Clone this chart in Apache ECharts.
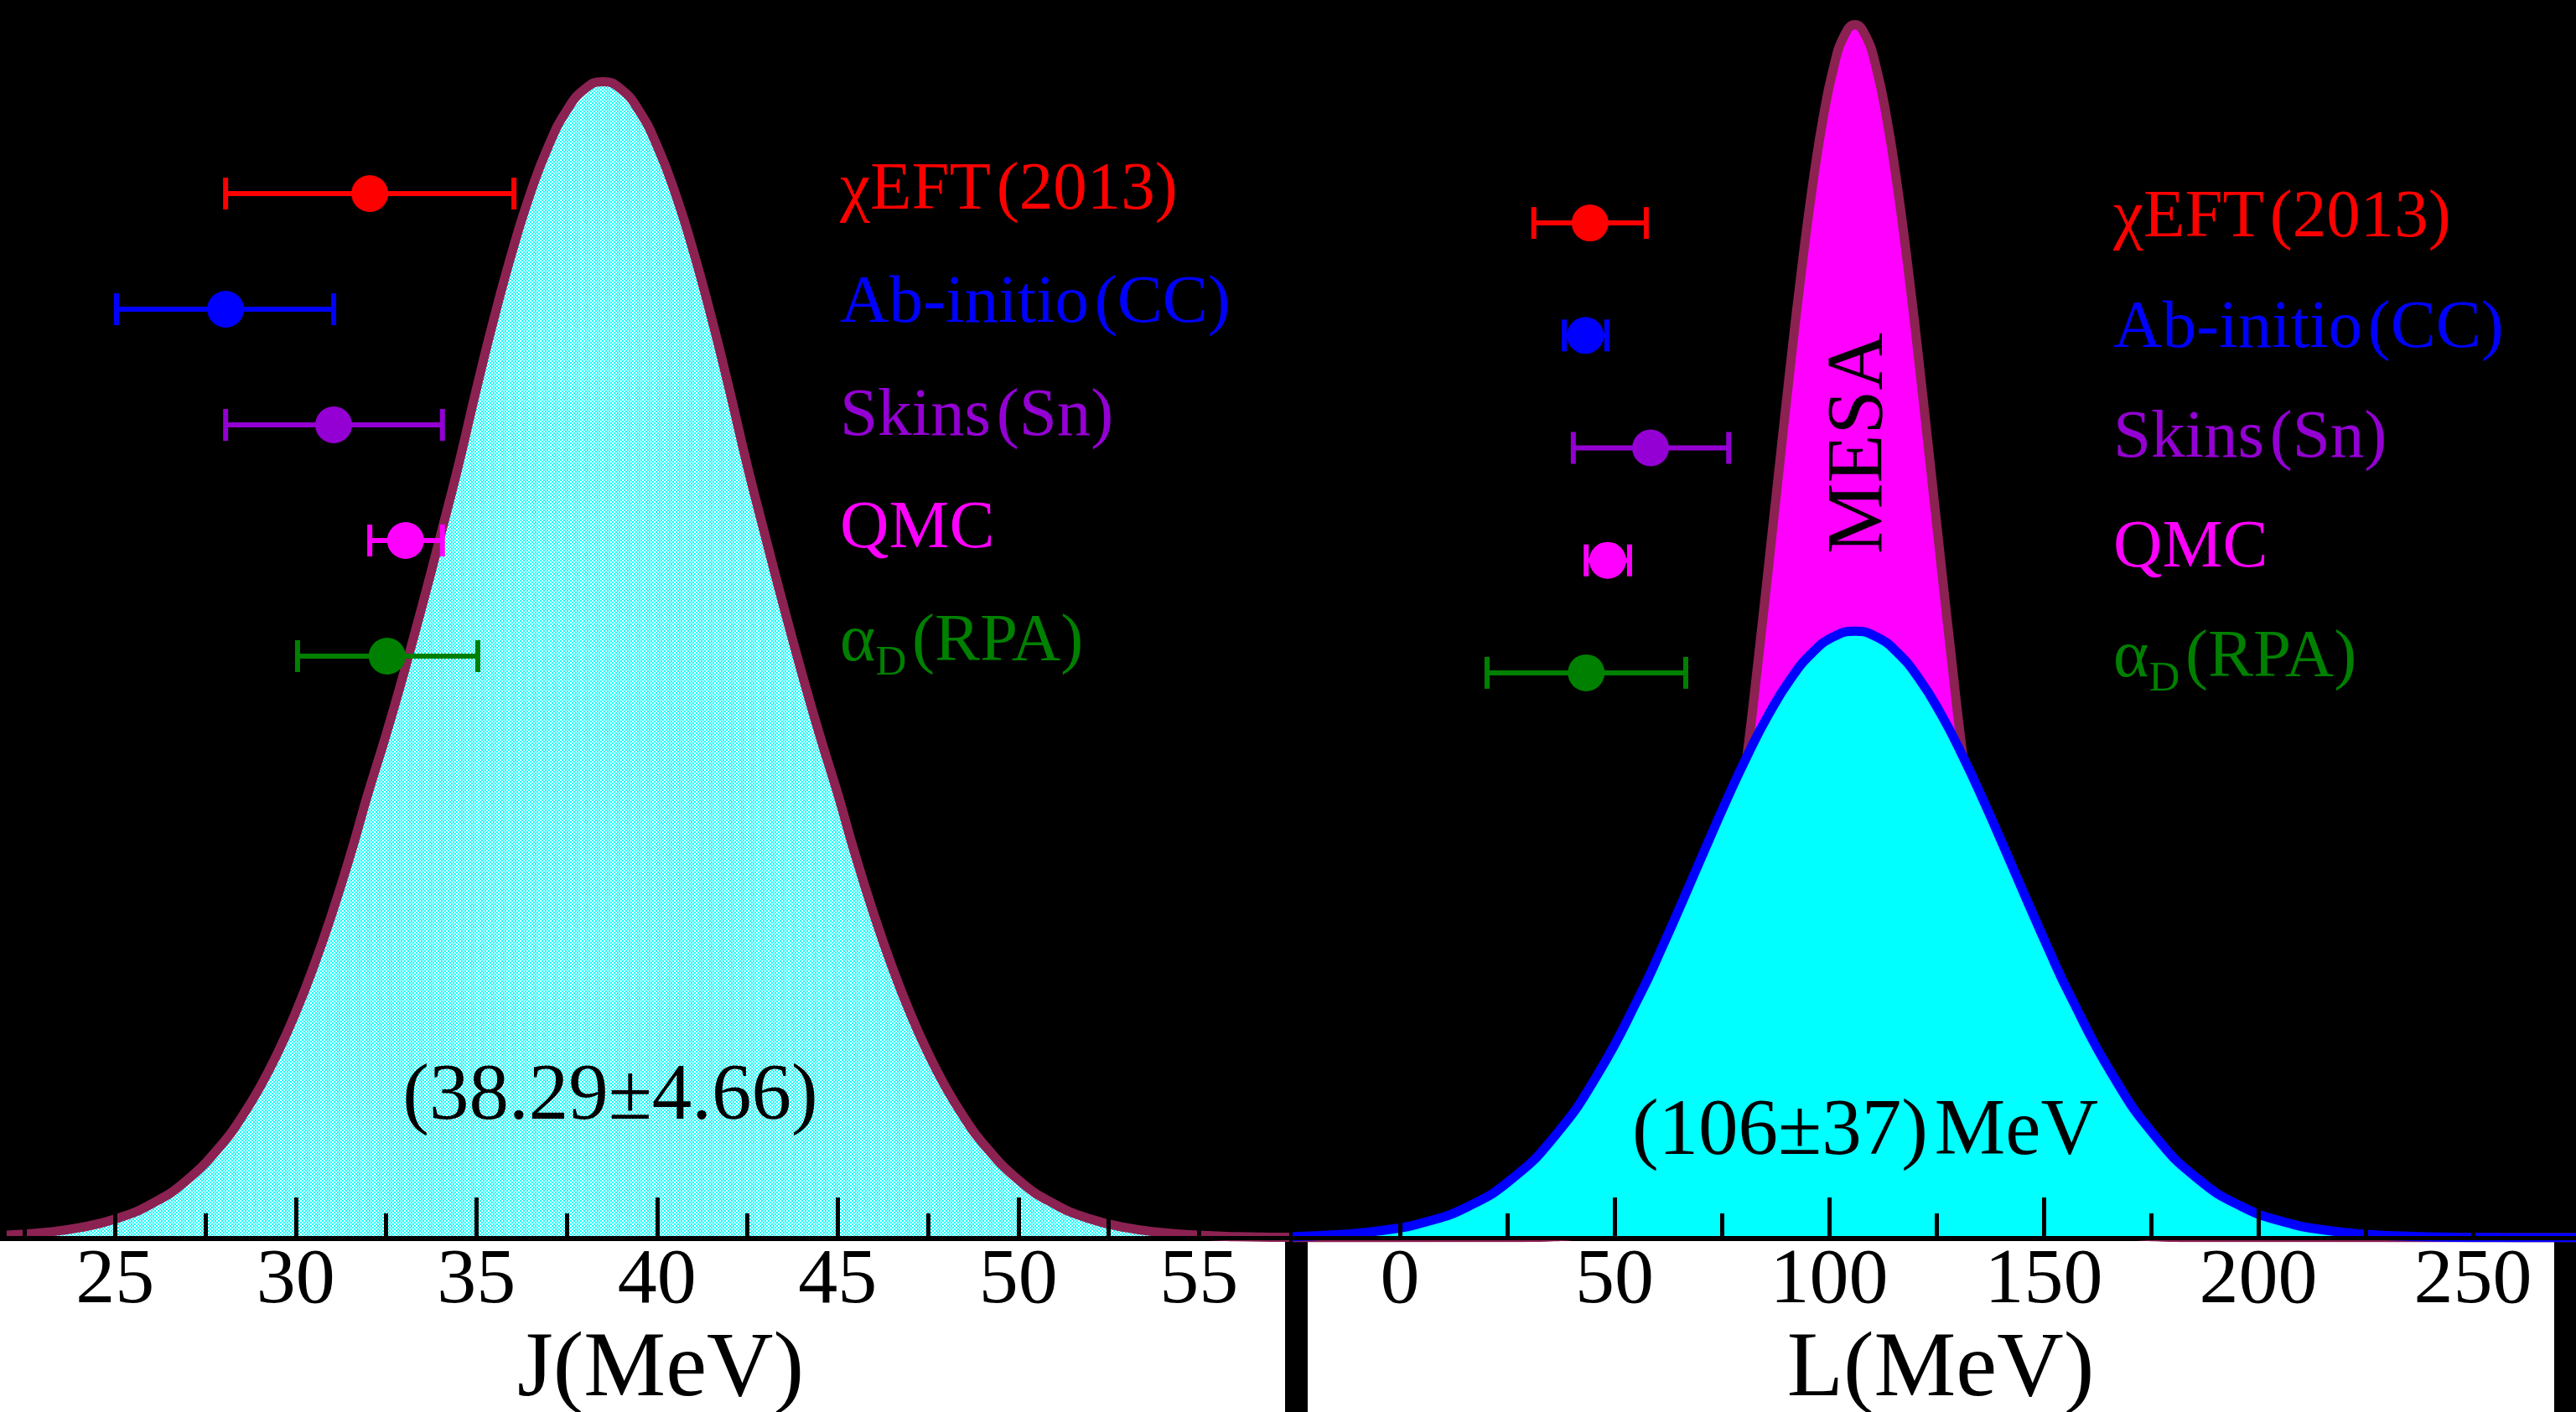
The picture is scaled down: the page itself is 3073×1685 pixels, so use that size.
<!DOCTYPE html>
<html><head><meta charset="utf-8">
<script src="https://cdn.jsdelivr.net/npm/echarts@6/dist/echarts.min.js"></script>
<style>html,body{margin:0;padding:0;background:#000;}#chart{width:3073px;height:1685px;}</style>
</head><body><div id="chart"></div>
<script>
// ---------------- data ----------------
const methodNames = ['χEFT (2013)', 'Ab-initio (CC)', 'Skins (Sn)', 'QMC', 'αD (RPA)'];
const methodColors = ['#ff0000', '#0000ff', '#9400d3', '#ff00ff', '#008000'];

// J panel error bars
const jCenter = [32.05, 28.06, 31.05, 33.04, 32.53];
const jLow    = [28.06, 25.04, 28.06, 32.05, 30.05];
const jHigh   = [36.04, 31.05, 34.06, 34.06, 35.04];

// L panel error bars
const lCenter = [44.3, 43.2, 58.4, 48.4, 43.4];
const lLow    = [31.2, 38.3, 40.4, 43.4, 20.3];
const lHigh   = [57.4, 48.2, 76.6, 53.5, 66.6];

// J distribution curve
const jCurveX = [22, 23, 24, 25, 26, 27, 28, 28.5, 29, 29.5, 30, 30.5, 31, 31.5, 32, 32.5, 33, 33.5, 34, 34.5, 35, 35.5, 36, 36.5, 37, 37.5, 38, 38.5,
                 39, 39.5, 40, 40.5, 41, 41.5, 42, 42.5, 43, 43.5, 44, 44.5, 45, 45.5, 46, 46.5, 47, 47.5, 48, 48.5, 49, 50, 51, 52, 53, 54, 55, 56, 57, 57.5];
const jCurveY = [0.0020, 0.0041, 0.0080, 0.0151, 0.0272, 0.0468, 0.0770, 0.0972, 0.1211, 0.1493, 0.1820, 0.2194, 0.2615, 0.3081, 0.3589, 0.4063, 0.4570, 0.5106, 0.5665, 0.6236, 0.6855, 0.7441, 0.7976, 0.8443, 0.8824, 0.9107, 0.9281, 0.934,
                 0.9281, 0.9107, 0.8824, 0.8443, 0.7976, 0.7441, 0.6855, 0.6236, 0.5665, 0.5106, 0.4570, 0.4063, 0.3589, 0.3081, 0.2615, 0.2194, 0.1820, 0.1493, 0.1211, 0.0972, 0.0770, 0.0468, 0.0272, 0.0151, 0.0080, 0.0041, 0.0020, 0.0009, 0.0004, 0.0003];

// L distribution curve (cyan)
const lCurveX = [-25, -14, -4, 6, 16, 26, 36, 46, 56, 61, 66, 71, 76, 81, 86, 91, 96, 101, 106, 111, 116, 121, 126, 131, 136, 141, 146, 151, 156, 166, 176, 186, 196, 206, 216, 226, 236, 246, 256, 266, 274];
const lCurveY = [0.0009, 0.0025, 0.0059, 0.0127, 0.0254, 0.0473, 0.0818, 0.1316, 0.1966, 0.2339, 0.2732, 0.3133, 0.3527, 0.3900, 0.4234, 0.4513, 0.4724, 0.4855, 0.490, 0.4855, 0.4724, 0.4513, 0.4234, 0.3900, 0.3527, 0.3133, 0.2732, 0.2339, 0.1966, 0.1316, 0.0818, 0.0473, 0.0254, 0.0127, 0.0059, 0.0025, 0.0010, 0.0004, 0.0001, 0.0000, 0.0000];

// MESA curve (magenta)
const mesaX = [-25, 26, 31, 36, 41, 46, 51, 56, 61, 66, 71, 76, 81, 83.5, 86, 88.5, 91, 93.5, 96, 98.5, 101, 103.5, 106,
               108.5, 111, 113.5, 116, 118.5, 121, 123.5, 126, 128.5, 131, 136, 141, 146, 151, 156, 161, 166, 171, 176, 181, 186, 274];
const mesaY = [0, 0.0001, 0.0003, 0.0008, 0.0020, 0.0051, 0.0118, 0.0254, 0.0509, 0.0946, 0.1637, 0.2632, 0.3933, 0.4678, 0.5463, 0.6265, 0.7055, 0.7800, 0.8468, 0.9027, 0.9449, 0.9711, 0.980,
               0.9711, 0.9449, 0.9027, 0.8468, 0.7800, 0.7055, 0.6265, 0.5463, 0.4678, 0.3933, 0.2632, 0.1637, 0.0946, 0.0509, 0.0254, 0.0118, 0.0051, 0.0020, 0.0008, 0.0003, 0.0001, 0];

// axis ticks
const jTicks = [25, 30, 35, 40, 45, 50, 55];
const jMinorTicks = [22.5, 27.5, 32.5, 37.5, 42.5, 47.5, 52.5];
const lTicks = [0, 50, 100, 150, 200, 250];
const lMinorTicks = [25, 75, 125, 175, 225];

const jRange = [22, 57.5];
const lRange = [-25, 274];

const jResult = '(38.29±4.66)';
const lResult = '(106±37)\u200aMeV';
const mesaLabel = 'MESA';

// ---------------- build ----------------
const SERIF = '"Liberation Serif", "Times New Roman", serif';
const MAROON = '#8b2252';
const zip = (xs, ys) => xs.map((x, i) => [x, ys[i]]);

const pat = document.createElement('canvas');
pat.width = 4; pat.height = 4;
const pc = pat.getContext('2d');
pc.fillStyle = '#ffffff'; pc.fillRect(0, 0, 4, 4);
pc.fillStyle = '#00ffff'; pc.fillRect(0, 0, 2, 2); pc.fillRect(2, 2, 2, 2);

function errItems(c, lo, hi) { return c.map((v, i) => [v, lo[i], hi[i], i]); }

function renderErr(params, api) {
  const idx = api.value(3);
  const c = api.coord([api.value(0), idx]);
  const lo = api.coord([api.value(1), idx]);
  const hi = api.coord([api.value(2), idx]);
  const color = methodColors[idx];
  const capH = 19;
  return {
    type: 'group',
    children: [
      { type: 'line', shape: { x1: lo[0], y1: lo[1], x2: hi[0], y2: hi[1] }, style: { stroke: color, lineWidth: 6 } },
      { type: 'line', shape: { x1: lo[0], y1: lo[1] - capH, x2: lo[0], y2: lo[1] + capH }, style: { stroke: color, lineWidth: 6 } },
      { type: 'line', shape: { x1: hi[0], y1: hi[1] - capH, x2: hi[0], y2: hi[1] + capH }, style: { stroke: color, lineWidth: 6 } },
      { type: 'circle', shape: { cx: c[0], cy: c[1], r: 22 }, style: { fill: color } }
    ]
  };
}

const rich = {};
methodColors.forEach((col, i) => {
  rich['c' + i] = { color: col, fontSize: 81, fontFamily: SERIF, lineHeight: 100 };
  rich['s' + i] = { color: col, fontSize: 51, fontFamily: SERIF, lineHeight: 50, verticalAlign: 'bottom' };
});
function labelFmt(value, index) {
  const v = value.replace(' ', '\u200a');
  if (v.indexOf('αD') === 0) {
    return '{c' + index + '|α}{s' + index + '|D}{c' + index + '|' + v.slice(2) + '}';
  }
  return '{c' + index + '|' + v + '}';
}

function majorAxis(grid, range, ticks, name, namePad) {
  return {
    type: 'value', gridIndex: grid, position: 'bottom', min: range[0], max: range[1], z: 5,
    axisLine: { show: true, lineStyle: { color: '#000', width: 5 } },
    axisTick: { show: true, inside: true, length: 48, lineStyle: { color: '#000', width: 5 }, customValues: ticks },
    axisLabel: { show: true, customValues: ticks, fontSize: 94, lineHeight: 94, fontFamily: SERIF, color: '#000', margin: 5 },
    splitLine: { show: false },
    name: name, nameLocation: 'middle', nameGap: 87,
    nameTextStyle: { fontSize: 110, lineHeight: 110, fontFamily: SERIF, color: '#000', padding: [0, 0, 0, namePad] }
  };
}
function minorAxis(grid, range, ticks) {
  return {
    type: 'value', gridIndex: grid, position: 'bottom', min: range[0], max: range[1], z: 5,
    axisLine: { show: false },
    axisTick: { show: true, inside: true, length: 29, lineStyle: { color: '#000', width: 5 }, customValues: ticks },
    axisLabel: { show: false },
    splitLine: { show: false }
  };
}
function hiddenX(grid, range) {
  return { type: 'value', gridIndex: grid, min: range[0], max: range[1], show: false };
}
function labelY(grid) {
  return {
    type: 'category', gridIndex: grid, data: methodNames, inverse: true, z: 5,
    axisLine: { show: false }, axisTick: { show: false }, splitLine: { show: false },
    axisLabel: { show: true, inside: true, margin: 0, interval: 0, formatter: labelFmt, rich: rich, lineHeight: 100 }
  };
}

const chart = echarts.init(document.getElementById('chart'), null, { renderer: 'canvas' });
chart.setOption({
  backgroundColor: '#000000',
  animation: false,
  grid: [
    { left: 8, right: 1535, top: 0, bottom: 208, outerBoundsMode: 'none' },
    { left: 1542, right: 0, top: 0, bottom: 208, outerBoundsMode: 'none' },
    { left: 8, right: 1535, top: 162, height: 690, outerBoundsMode: 'none' },
    { left: 1542, right: 0, top: 199, height: 671, outerBoundsMode: 'none' },
    { left: 1002, width: 400, top: 160.6, height: 673.75, outerBoundsMode: 'none' },
    { left: 2521, width: 400, top: 195.4, height: 656.25, outerBoundsMode: 'none' }
  ],
  xAxis: [
    majorAxis(0, jRange, jTicks, 'J(MeV)', 30),
    minorAxis(0, jRange, jMinorTicks),
    majorAxis(1, lRange, lTicks, 'L(MeV)', 15),
    minorAxis(1, lRange, lMinorTicks),
    hiddenX(2, jRange),
    hiddenX(3, lRange),
    hiddenX(4, [0, 1]),
    hiddenX(5, [0, 1])
  ],
  yAxis: [
    { type: 'value', gridIndex: 0, min: 0, max: 1, show: false },
    { type: 'value', gridIndex: 1, min: 0, max: 1, show: false },
    { type: 'category', gridIndex: 2, data: methodNames, inverse: true, show: false },
    { type: 'category', gridIndex: 3, data: methodNames, inverse: true, show: false },
    labelY(4),
    labelY(5)
  ],
  series: [
    {
      name: 'J', type: 'line', xAxisIndex: 0, yAxisIndex: 0, z: 2,
      data: zip(jCurveX, jCurveY), smooth: true, showSymbol: false, symbol: 'none',
      lineStyle: { color: MAROON, width: 11 },
      areaStyle: { color: { image: pat, repeat: 'repeat' }, opacity: 1 }
    },
    {
      name: 'MESA', type: 'line', xAxisIndex: 2, yAxisIndex: 1, z: 2,
      data: zip(mesaX, mesaY), smooth: true, showSymbol: false, symbol: 'none',
      lineStyle: { color: MAROON, width: 11 },
      areaStyle: { color: '#ff00ff', opacity: 1 }
    },
    {
      name: 'L', type: 'line', xAxisIndex: 2, yAxisIndex: 1, z: 3,
      data: zip(lCurveX, lCurveY), smooth: true, showSymbol: false, symbol: 'none',
      lineStyle: { color: '#0000ff', width: 11 },
      areaStyle: { color: '#00ffff', opacity: 1 }
    },
    {
      name: 'J constraints', type: 'custom', xAxisIndex: 4, yAxisIndex: 2, z: 6,
      renderItem: renderErr, encode: { x: [0, 1, 2], y: 3 },
      data: errItems(jCenter, jLow, jHigh)
    },
    {
      name: 'L constraints', type: 'custom', xAxisIndex: 5, yAxisIndex: 3, z: 6,
      renderItem: renderErr, encode: { x: [0, 1, 2], y: 3 },
      data: errItems(lCenter, lLow, lHigh)
    }
  ],
  graphic: [
    { type: 'rect', z: 1, silent: true, shape: { x: 0, y: 1481, width: 1533, height: 204 }, style: { fill: '#ffffff' } },
    { type: 'rect', z: 1, silent: true, shape: { x: 1560, y: 1481, width: 1487, height: 204 }, style: { fill: '#ffffff' } },
    { type: 'text', z: 10, x: 728, y: 1310, style: { text: jResult, font: '95px ' + SERIF, fill: '#000', align: 'center', verticalAlign: 'middle', textAlign: 'center', textVerticalAlign: 'middle' } },
    { type: 'text', z: 10, x: 2225, y: 1352, style: { text: lResult, font: '95px ' + SERIF, fill: '#000', align: 'center', verticalAlign: 'middle', textAlign: 'center', textVerticalAlign: 'middle' } },
    { type: 'text', z: 10, x: 2220, y: 529, rotation: Math.PI / 2, style: { text: mesaLabel, font: '95px ' + SERIF, fill: '#000', align: 'center', verticalAlign: 'middle', textAlign: 'center', textVerticalAlign: 'middle' } }
  ]
});
</script>
</body></html>
